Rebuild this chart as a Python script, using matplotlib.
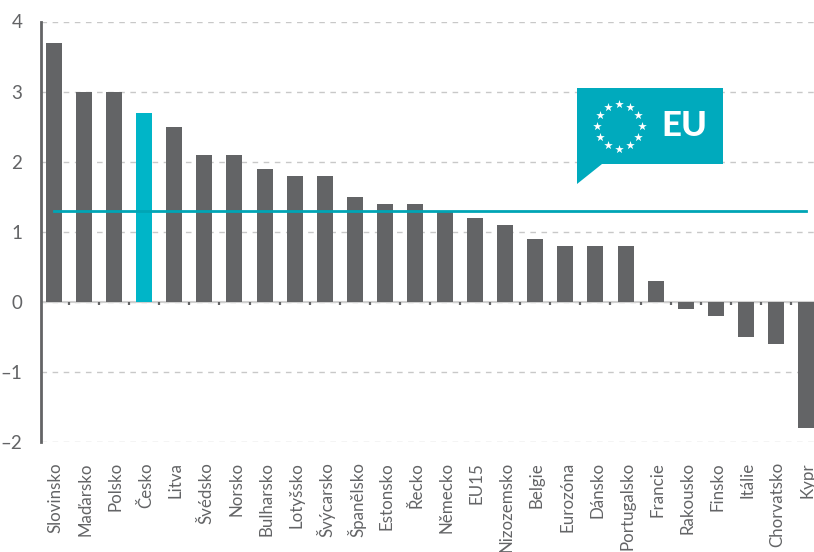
import matplotlib
matplotlib.use('Agg')
import matplotlib.pyplot as plt
from matplotlib.patches import Polygon
import numpy as np

categories = ['Slovinsko','Maďarsko','Polsko','Česko','Litva','Švédsko','Norsko','Bulharsko','Lotyšsko','Švýcarsko','Španělsko','Estonsko','Řecko','Německo','EU15','Nizozemsko','Belgie','Eurozóna','Dánsko','Portugalsko','Francie','Rakousko','Finsko','Itálie','Chorvatsko','Kypr']
values = [3.7,3.0,3.0,2.7,2.5,2.1,2.1,1.9,1.8,1.8,1.5,1.4,1.4,1.3,1.2,1.1,0.9,0.8,0.8,0.8,0.3,-0.1,-0.2,-0.5,-0.6,-1.8]
eu_average = [1.3] * len(categories)
yticks = [-2,-1,0,1,2,3,4]
ytick_labels = ['–2','–1','0','1','2','3','4']
highlight = 'Česko'

W, H = 814, 552
GREY = '#636466'; TEAL = '#00B5C8'; BOX = '#00AABD'
plt.rcParams['font.family'] = ['Lato', 'DejaVu Sans']

fig = plt.figure(figsize=(W/100, H/100), dpi=100)
ax = fig.add_axes([40.5/W, (H-442)/H, (W-40.5)/W, (442-21.5)/H])
x = np.arange(len(categories))
step = 30.08
ax.set_xlim(-(54-40.5)/step, (W-54)/step)
ax.set_ylim(-2, 4)
colors = [TEAL if c == highlight else GREY for c in categories]
ax.bar(x, values, width=16/step, color=colors, zorder=2, linewidth=0)
ax.plot(x, eu_average, color='#00A5B5', lw=2, zorder=3, solid_capstyle='projecting')

ax.set_yticks(yticks, ytick_labels, fontsize=13.5, color=GREY)
ax.yaxis.grid(True, color='#C8C8C8', ls=(0, (4, 4)), lw=1)
ax.set_axisbelow(True)
ax.tick_params(axis='y', length=0, pad=13)
ax.set_xticks([])
for s in ['top', 'right', 'bottom']:
    ax.spines[s].set_visible(False)
ax.spines['left'].set_color(GREY)
ax.spines['left'].set_linewidth(2)
ax.axhline(0, color='#D0D0D0', lw=1.5, zorder=1)

# minor ticks between categories on the zero line
for b in x[:-1] + 0.5:
    ax.plot([b, b], [0, -0.05], color=GREY, lw=1.6, zorder=1.5, solid_capstyle='butt')

# category labels, cut off by the figure's bottom edge as in the original
for xi, c in zip(x, categories):
    ax.annotate(c, (xi, -2), xytext=(1.2, -14.5), textcoords='offset points',
                rotation=90, ha='center', va='top', fontsize=12.2, color=GREY,
                annotation_clip=False)

def px(xp, yp):
    return (xp / W, 1 - yp / H)

fig.add_artist(Polygon([px(577,88), px(723,88), px(723,164), px(602,164), px(577,184)],
                       closed=True, transform=fig.transFigure, facecolor=BOX, edgecolor='none', zorder=5))
fig.text(*px(684,125.5), 'EU', color='white', fontsize=25, fontweight='black',
         ha='center', va='center', zorder=6)
angles = np.deg2rad(np.arange(0, 360, 30))
sx = [619 + 22.5*np.sin(a) for a in angles]
sy = [126 - 22.5*np.cos(a) for a in angles]
fa = fig.add_axes([0, 0, 1, 1], facecolor='none', zorder=7)
fa.set_xlim(0, W); fa.set_ylim(H, 0); fa.axis('off')
fa.scatter(sx, sy, marker='*', s=42, color='white', linewidths=0)

fig.savefig('out.png', dpi=100)
